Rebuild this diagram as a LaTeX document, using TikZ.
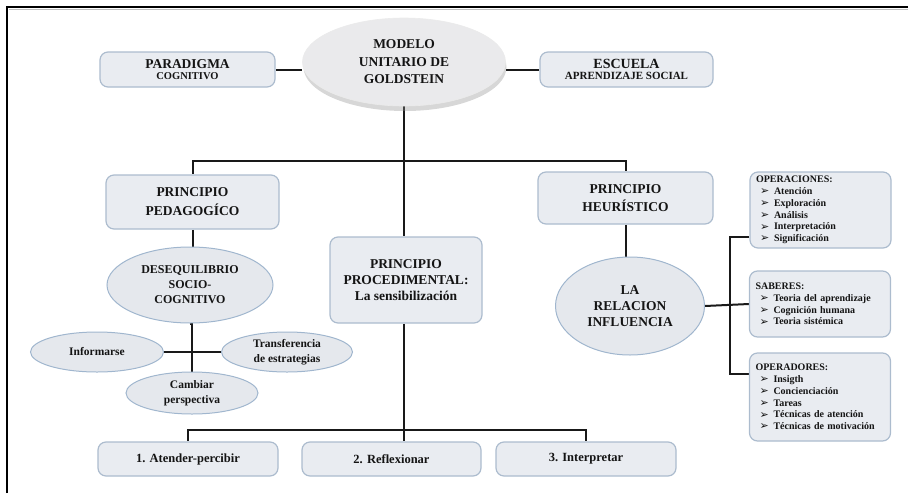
\documentclass[tikz,border=0pt]{standalone}
\usepackage{fontspec}
\setmainfont{Liberation Serif}
\newfontfamily\dejavu{DejaVu Sans}
\usetikzlibrary{shapes.geometric,shadows,backgrounds}
\definecolor{boxfill}{RGB}{233,236,241}
\definecolor{boxline}{RGB}{172,188,206}
\definecolor{ovfill}{RGB}{229,232,237}
\definecolor{ovline}{RGB}{160,182,206}
\definecolor{topfill}{RGB}{234,234,236}
\definecolor{txt}{RGB}{20,20,20}
\newcommand\bul{\hspace*{4pt}\makebox[14pt][l]{\raisebox{-0.3pt}{\dejavu\fontsize{11}{11}\selectfont ➢}}}
\tikzset{
  box/.style={draw=boxline, fill=boxfill, rounded corners=8pt, line width=1.2pt,
    align=center, inner sep=2pt, font=\bfseries, text=txt},
  oval/.style={ellipse, draw=ovline, fill=ovfill, line width=1pt, align=center,
    inner sep=0pt, font=\bfseries, text=txt},
  listbox/.style={box, align=left, text width=129pt, inner xsep=6pt,
    font=\bfseries\fontsize{10}{11.7}\selectfont},
  conn/.style={line width=2pt, black!90},
}
\begin{document}
\begin{tikzpicture}[x=1pt,y=-1pt]
\useasboundingbox (0,0) rectangle (908,493);
% frame
\draw[black!25, line width=1pt] (9,9.5) -- (908,9.5);
\draw[black, line width=2.5pt] (7,493) -- (7,7) -- (908,7);

% top row
\node[ellipse, fill=topfill, draw=black!8, line width=0.6pt, inner sep=0pt,
  minimum width=203pt, minimum height=88pt, align=center, text=txt,
  drop shadow={shadow xshift=1pt, shadow yshift=-5pt, opacity=0.35, fill=black!45},
  font=\bfseries\fontsize{13.5}{17.5}\selectfont] (modelo) at (404,62)
  {MODELO\\UNITARIO DE\\GOLDSTEIN};
\node[box, minimum width=175pt, minimum height=35pt] (paradigma) at (187.5,69.5)
  {\fontsize{13.5}{14}\selectfont PARADIGMA\\[-1pt]\fontsize{10.5}{12}\selectfont COGNITIVO};
\node[box, minimum width=173pt, minimum height=35pt] (escuela) at (626.5,69.5)
  {\fontsize{14}{14}\selectfont ESCUELA\\[-1pt]\fontsize{11}{12}\selectfont APRENDIZAJE SOCIAL};

% second level
\node[box, minimum width=173pt, minimum height=54pt,
  font=\bfseries\fontsize{13.5}{19}\selectfont] (pedagogico) at (192.5,202)
  {PRINCIPIO\\PEDAGOGÍCO};
\node[box, minimum width=175pt, minimum height=52pt,
  font=\bfseries\fontsize{13.5}{18}\selectfont] (heuristico) at (625.5,198)
  {PRINCIPIO\\HEURÍSTICO};
\node[box, minimum width=152pt, minimum height=86pt,
  font=\bfseries\fontsize{13.5}{16}\selectfont] (procedimental) at (406,280)
  {PRINCIPIO\\PROCEDIMENTAL:\\La sensibilización};

% left branch
\node[oval, minimum width=166pt, minimum height=76pt,
  font=\bfseries\fontsize{12}{15}\selectfont] (deseq) at (190,285)
  {DESEQUILIBRIO\\SOCIO-\\COGNITIVO};
\node[oval, minimum width=133pt, minimum height=40pt,
  font=\bfseries\fontsize{11.5}{15}\selectfont] (informarse) at (97,352)
  {Informarse};
\node[oval, minimum width=131pt, minimum height=40pt,
  font=\bfseries\fontsize{11.5}{15.5}\selectfont] (transfer) at (287,352)
  {Transferencia\\de estrategias};
\node[oval, minimum width=132pt, minimum height=42pt,
  font=\bfseries\fontsize{11.5}{15}\selectfont] (cambiar) at (192,393)
  {Cambiar\\perspectiva};

% right branch
\node[oval, minimum width=149pt, minimum height=98pt,
  font=\bfseries\fontsize{13.5}{16}\selectfont] (relacion) at (630,306)
  {LA\\RELACION\\INFLUENCIA};
\node[listbox, minimum height=76pt] (operaciones) at (820.5,210)
  {OPERACIONES:\\\bul Atención\\\bul Exploración\\\bul Análisis\\\bul Interpretación\\\bul Significación};
\node[listbox, minimum height=66pt] (saberes) at (820,304)
  {SABERES:\\\bul Teoria del aprendizaje\\\bul Cognición humana\\\bul Teoria sistémica};
\node[listbox, minimum height=88pt] (operadores) at (820,397)
  {OPERADORES:\\\bul Insigth\\\bul Concienciación\\\bul Tareas\\\bul Técnicas de atención\\\bul Técnicas de motivación};

% bottom row
\node[box, minimum width=180pt, minimum height=34pt,
  font=\bfseries\fontsize{12.5}{14}\selectfont] (atender) at (188,459) {1. Atender-percibir};
\node[box, minimum width=179pt, minimum height=34pt,
  font=\bfseries\fontsize{12.5}{14}\selectfont] (reflexionar) at (391.5,459) {2. Reflexionar};
\node[box, minimum width=180pt, minimum height=34pt,
  font=\bfseries\fontsize{12.5}{14}\selectfont] (interpretar) at (586,459) {3. Interpretar};

% helper coordinates
\coordinate (bus) at (404,161);
\coordinate (bus2) at (404,430);
\coordinate (spine) at (730,306);

% connectors, behind the nodes
\begin{scope}[on background layer]
\draw[conn] (paradigma.east) -- (paradigma.east -| modelo.west);
\draw[conn] (escuela.west) -- (escuela.west -| modelo.east);
\draw[conn] (modelo.south) -- (modelo.south |- procedimental.north);
\draw[conn] (bus) -| (pedagogico.north);
\draw[conn] (bus) -| (heuristico.north);
\draw[conn] (pedagogico.south) -- (pedagogico.south |- deseq.north);
\draw[conn] (deseq.south) -- (deseq.south -| cambiar.north) -- (cambiar.north);
\draw[conn] (informarse.east) -- (transfer.west);
\draw[conn] (heuristico.south) -- (heuristico.south |- relacion.north);
\draw[conn] (relacion.east) -- (saberes.west);
\draw[conn] (operaciones.west |- 0,237) -- (spine |- 0,237) -- (spine |- 0,374) -- (operadores.west |- 0,374);
\draw[conn] (bus2 |- procedimental.south) -- (bus2 |- reflexionar.north);
\draw[conn] (bus2) -| (atender.north);
\draw[conn] (bus2) -| (interpretar.north);
\end{scope}
\end{tikzpicture}
\end{document}
